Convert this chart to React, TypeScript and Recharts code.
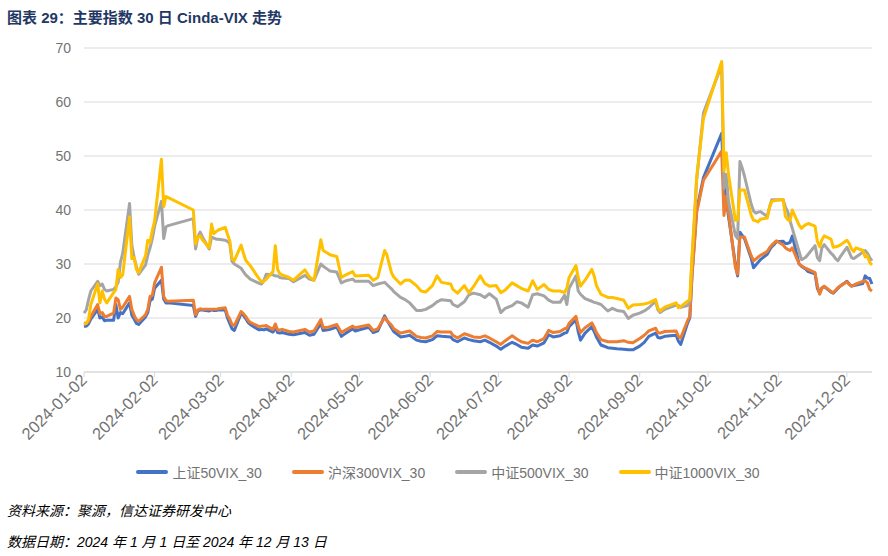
import React from "react";
import { LineChart, Line, XAxis, YAxis, CartesianGrid, Legend } from "recharts";

// trading days (MM-DD, 2024)
const dates = [
  "01-02","01-03","01-04","01-05","01-08","01-09","01-10","01-11","01-12","01-15","01-16","01-17","01-18","01-19","01-22","01-23","01-24","01-25","01-26","01-29","01-30","01-31",
  "02-01","02-02","02-05","02-06","02-07","02-08","02-19","02-20","02-21","02-22","02-23","02-26","02-27","02-28","02-29",
  "03-01","03-04","03-05","03-06","03-07","03-08","03-11","03-12","03-13","03-14","03-15","03-18","03-19","03-20","03-21","03-22","03-25","03-26","03-27","03-28","03-29",
  "04-01","04-03","04-08","04-10","04-12","04-15","04-16","04-18","04-19","04-22","04-24","04-26","04-29","04-30",
  "05-06","05-08","05-10","05-13","05-14","05-16","05-17","05-20","05-22","05-24","05-27","05-29","05-31",
  "06-03","06-05","06-07","06-11","06-12","06-14","06-17","06-19","06-21","06-24","06-26","06-28",
  "07-01","07-03","07-05","07-08","07-10","07-12","07-15","07-17","07-19","07-22","07-24","07-26","07-29","07-31",
  "08-01","08-02","08-05","08-06","08-07","08-09","08-12","08-13","08-14","08-16","08-19","08-21","08-23","08-26","08-28","08-30",
  "09-02","09-04","09-06","09-09","09-10","09-11","09-13","09-18","09-19","09-20","09-23","09-24","09-25","09-26","09-27","09-30",
  "10-08","10-09","10-10","10-11","10-14","10-15","10-16","10-17","10-18","10-21","10-22","10-23","10-24","10-25","10-28","10-29","10-30","10-31",
  "11-01","11-04","11-05","11-06","11-07","11-08","11-11","11-12","11-13","11-14","11-15","11-18","11-19","11-20","11-21","11-22","11-25","11-26","11-27","11-28","11-29",
  "12-02","12-03","12-04","12-05","12-06","12-09","12-10","12-11","12-12","12-13",
];

const sz50 = [
  18.4,18.5,18.9,19.8,21.6,20.0,20.2,19.5,19.6,19.6,22.5,20.0,21.0,20.8,22.8,20.5,19.8,19.0,18.8,20.2,21.0,23.2,
  23.5,25.5,27.0,23.5,22.8,22.8,22.3,20.3,21.3,21.5,21.5,21.3,21.5,21.4,21.4,
  21.5,21.5,20.0,19.0,18.0,17.7,20.9,20.5,19.9,19.2,18.8,18.0,17.8,17.9,17.8,18.0,17.4,18.3,17.3,17.2,17.3,
  17.0,16.9,17.3,16.8,17.0,19.0,17.7,17.8,17.9,18.3,16.6,17.2,18.0,17.6,
  18.3,17.3,17.6,20.4,19.6,18.2,17.5,16.5,16.6,16.8,15.9,15.7,15.6,
  16.0,16.7,16.6,16.5,16.0,15.6,16.3,16.0,15.8,15.6,15.9,15.5,
  14.8,14.2,14.8,15.5,15.1,14.6,14.4,15.0,14.8,15.4,16.9,16.5,16.7,17.2,
  17.3,18.4,19.7,17.5,15.9,17.2,18.4,17.5,16.5,15.0,14.5,14.4,14.3,14.2,14.1,14.1,
  14.8,15.5,16.6,17.2,16.4,16.3,16.6,16.8,15.7,15.1,19.0,20.0,28.3,34.0,40.0,46.0,
  54.2,44.5,42.0,38.8,30.0,27.8,35.9,35.3,34.7,31.0,29.3,29.8,30.3,30.8,31.8,32.6,33.2,33.6,
  34.1,34.2,33.8,33.8,34.0,35.2,30.0,29.6,29.3,29.0,28.6,28.2,25.5,24.6,25.6,25.8,24.8,24.6,25.0,25.5,25.9,
  26.8,26.3,25.9,26.0,26.1,26.4,27.8,27.4,27.3,26.3,
];

const hs300 = [
  19.1,19.0,19.3,20.3,22.5,20.8,21.0,20.3,20.3,20.9,23.7,23.4,21.6,22.0,24.0,21.6,20.5,19.7,19.4,20.6,21.6,24.0,
  24.2,26.5,29.4,24.0,23.2,23.1,23.3,20.6,21.5,21.7,21.6,21.6,21.6,21.6,21.6,
  21.7,21.9,20.5,19.8,18.8,18.6,21.2,20.8,20.3,19.6,19.2,18.6,18.4,18.5,18.5,18.6,17.9,18.9,17.8,17.8,17.9,
  17.5,17.4,17.9,17.4,17.6,19.7,18.2,18.3,18.4,18.8,17.3,17.8,18.5,18.2,
  18.7,17.7,18.0,20.1,19.5,18.7,18.0,17.2,17.4,17.6,16.6,16.4,16.3,
  16.7,17.5,17.4,17.4,16.8,16.3,17.1,16.8,16.5,16.4,16.7,16.3,
  15.6,15.1,15.8,16.7,16.1,15.6,15.3,15.9,15.6,16.2,17.7,17.3,17.5,18.0,
  18.1,19.0,20.3,18.5,17.3,18.2,19.1,18.3,17.3,16.0,15.6,15.6,15.6,15.8,15.5,15.4,
  16.2,16.8,17.6,18.1,17.3,17.2,17.5,17.6,16.6,16.3,19.5,20.3,28.0,33.5,39.5,45.5,
  50.9,39.0,42.6,39.5,29.4,28.1,35.0,35.0,35.0,31.5,30.6,30.9,31.3,31.6,32.3,33.0,33.5,33.9,
  34.3,33.5,33.0,32.7,32.5,33.0,30.0,29.7,29.4,29.2,29.0,28.4,26.0,24.4,25.5,25.9,24.9,24.7,25.1,25.6,25.9,
  26.7,26.2,25.9,26.1,26.3,26.8,26.9,26.5,25.3,25.0,
];

const zz500 = [
  20.9,21.5,23.4,25.0,26.8,26.0,26.3,25.3,25.0,25.3,25.8,26.6,30.3,32.0,41.2,33.5,31.2,29.5,28.1,29.8,31.6,33.0,
  34.7,37.0,41.6,34.7,36.9,37.1,38.4,32.8,35.0,35.9,35.0,32.8,35.0,34.8,34.6,
  34.6,34.4,34.2,33.8,30.5,30.0,29.2,28.6,28.0,27.6,27.2,26.6,26.4,26.3,27.0,28.1,28.0,27.8,27.8,27.5,27.4,
  27.3,26.7,27.9,27.2,27.0,30.0,29.6,29.0,28.7,28.5,26.5,26.9,27.2,26.8,
  26.8,26.0,26.3,26.6,26.2,25.4,24.9,23.8,23.4,22.8,21.4,21.4,21.6,
  22.3,23.0,23.4,23.2,22.5,22.1,23.0,24.3,24.6,24.3,23.8,24.5,
  23.5,21.0,21.8,22.3,23.0,22.8,22.0,24.3,24.5,24.1,23.3,22.9,22.9,24.2,
  22.5,25.5,27.8,25.0,24.4,23.6,23.1,22.9,22.8,22.5,21.3,21.8,21.4,21.2,19.9,20.5,
  20.9,21.3,21.9,23.1,21.5,21.0,21.6,22.4,22.3,22.0,22.3,23.0,31.0,38.0,45.5,58.0,
  66.8,44.0,46.6,41.6,35.3,34.7,49.0,47.8,46.3,41.0,39.8,39.4,39.6,39.7,38.8,40.5,41.9,41.9,
  41.9,41.9,40.5,39.7,38.0,36.6,32.3,30.8,31.0,31.3,31.8,33.4,31.2,30.6,33.0,33.6,32.0,31.6,31.0,30.6,31.3,
  33.1,32.2,31.2,31.0,31.3,32.2,32.5,32.0,31.2,30.6,
];

const zz1000 = [
  18.8,19.0,19.8,22.5,26.3,22.8,25.0,23.5,22.8,24.7,25.3,29.0,27.5,28.0,38.7,31.0,31.2,29.0,28.4,31.5,34.4,34.0,
  36.2,38.0,49.4,40.6,42.5,42.3,40.0,33.7,35.0,35.2,34.5,33.0,37.4,35.6,36.0,
  36.3,36.8,35.5,34.3,31.0,30.6,33.5,32.0,30.7,30.2,29.7,27.8,27.2,26.7,26.8,27.2,28.6,33.4,29.0,28.2,28.0,
  27.5,27.0,28.9,27.6,27.0,34.5,32.5,32.0,31.7,31.4,27.5,28.0,28.6,27.8,
  27.9,27.0,27.5,32.5,31.7,28.4,27.6,26.3,27.0,27.0,26.0,25.0,24.8,
  26.0,27.8,26.6,26.3,25.3,24.6,26.0,24.7,25.8,27.8,26.4,25.9,
  26.0,24.7,25.2,26.5,26.0,25.5,25.0,26.9,25.3,26.2,25.3,25.0,25.0,24.7,
  25.5,27.5,29.7,27.5,25.9,27.0,29.0,27.8,26.0,24.4,23.8,23.8,23.6,23.3,21.8,22.4,
  22.5,22.6,22.8,23.4,21.8,21.3,22.0,22.8,21.9,22.1,23.1,23.4,31.5,38.5,46.0,57.0,
  67.5,47.2,50.6,46.6,38.1,38.1,43.7,43.7,43.7,39.0,38.1,38.0,37.8,38.3,38.5,40.5,41.6,41.7,
  41.8,41.9,38.8,38.2,38.0,40.0,37.2,36.6,37.0,37.3,37.5,37.0,34.2,33.2,34.5,35.2,34.6,33.1,33.2,33.3,33.5,
  34.4,33.8,32.8,32.3,33.0,32.5,31.3,31.5,30.3,29.8,
];

const yTicks = [10, 20, 30, 40, 50, 60, 70];
const monthTicks = ["01-02","02-02","03-02","04-02","05-02","06-02","07-02","08-02","09-02","10-02","11-02","12-02"];

const SERIES = [
  { key: "sz50", name: "上证50VIX_30", color: "#4472C4" },
  { key: "hs300", name: "沪深300VIX_30", color: "#ED7D31" },
  { key: "zz500", name: "中证500VIX_30", color: "#A5A5A5" },
  { key: "zz1000", name: "中证1000VIX_30", color: "#FFC000" },
];

const DAY = 86400000;
const BASE = Date.UTC(2024, 0, 2);
const toDay = (md: string) => {
  const [m, d] = md.split("-").map(Number);
  return (Date.UTC(2024, m - 1, d) - BASE) / DAY;
};
const fmtDay = (t: number) => new Date(BASE + t * DAY).toISOString().slice(0, 10);

const data = dates.map((md, i) => ({
  t: toDay(md),
  sz50: sz50[i],
  hs300: hs300[i],
  zz500: zz500[i],
  zz1000: zz1000[i],
}));

const FONT = "'Liberation Sans', 'Noto Sans CJK SC', sans-serif";
const LABEL = "#737373";

function XTick({ x, y, payload }: any) {
  return (
    <g transform={`translate(${x},${y - 2})`}>
      <text x={0} y={0} dy="0.35em" textAnchor="end" transform="rotate(-45)"
        fontSize={16.5} fill={LABEL} fontFamily={FONT}>
        {fmtDay(payload.value)}
      </text>
    </g>
  );
}

function LegendRow() {
  return (
    <div style={{ height: 40, display: "flex", justifyContent: "center", alignItems: "center", gap: 30 }}>
      {SERIES.map(s => (
        <div key={s.key} style={{ display: "flex", alignItems: "center" }}>
          <span style={{ width: 32, height: 4, borderRadius: 2, background: s.color, marginRight: 4 }} />
          <span style={{ fontSize: 14, color: LABEL, fontFamily: FONT }}>{s.name}</span>
        </div>
      ))}
    </div>
  );
}

export default function App() {
  return (
    <div style={{ position: "absolute", left: 0, top: 0, width: 888, height: 556, background: "#fff", overflow: "hidden" }}>
      <div style={{ position: "absolute", left: 7, top: 6, fontSize: 15, fontWeight: 700, color: "#1F3864",
        fontFamily: FONT, whiteSpace: "nowrap" }}>
        图表 29：主要指数 30 日 Cinda-VIX 走势
      </div>
      <div style={{ position: "absolute", left: 0, top: 0 }}>
        <LineChart width={888} height={492} data={data} margin={{ top: 48, right: 16, left: 24, bottom: 0 }}>
          <CartesianGrid vertical={false} stroke="#d9d9d9" />
          <XAxis dataKey="t" type="number" domain={[0, toDay("12-13")]} ticks={monthTicks.map(toDay)}
            interval={0} height={80} tick={<XTick />} tickSize={5} tickMargin={2}
            axisLine={{ stroke: "#d9d9d9" }} tickLine={{ stroke: "#d9d9d9" }} />
          <YAxis domain={[10, 70]} ticks={yTicks} width={60} axisLine={false} tickLine={false}
            tickSize={0} tickMargin={13} tick={{ fontSize: 14, fill: LABEL, fontFamily: FONT }} />
          <Legend verticalAlign="bottom" height={40} content={<LegendRow />} />
          {SERIES.map(s => (
            <Line key={s.key} dataKey={s.key} name={s.name} type="linear" stroke={s.color}
              strokeWidth={3} dot={false} strokeLinejoin="round" isAnimationActive={false} />
          ))}
        </LineChart>
      </div>
      <div style={{ position: "absolute", left: 7, top: 500, fontSize: 14, fontStyle: "italic", color: "#000",
        fontFamily: FONT, whiteSpace: "nowrap" }}>
        资料来源：聚源，信达证券研发中心
      </div>
      <div style={{ position: "absolute", left: 7, top: 531, fontSize: 14, fontStyle: "italic", color: "#000",
        fontFamily: FONT, whiteSpace: "nowrap" }}>
        数据日期：2024 年 1 月 1 日至 2024 年 12 月 13 日
      </div>
    </div>
  );
}
